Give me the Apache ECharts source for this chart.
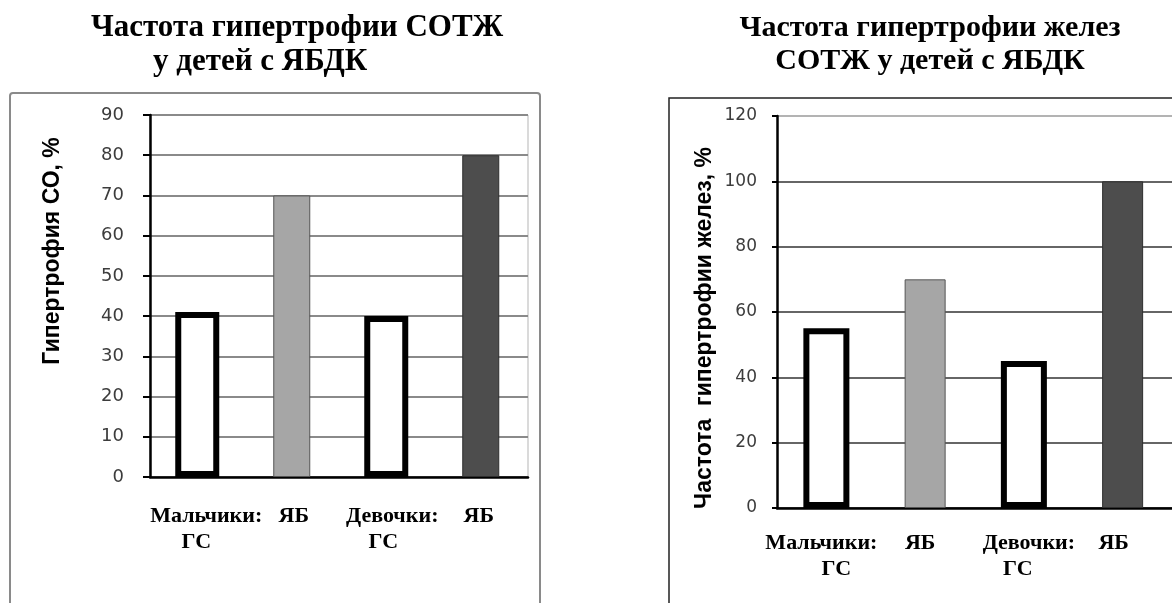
<!DOCTYPE html>
<html>
<head>
<meta charset="utf-8">
<script src="https://cdn.jsdelivr.net/npm/echarts@6/dist/echarts.min.js"></script>
<style>
  html, body { margin: 0; padding: 0; background: #ffffff; }
  #chart { width: 1172px; height: 603px; }
</style>
</head>
<body>
<div id="chart"></div>
<script>
// Группы детей (подписи категорий)
const categories = ['Мальчики:\nГС', 'ЯБ', 'Девочки:\nГС', 'ЯБ'];
// Гипертрофия СО, %
const soValues = [41, 70, 40, 80];
// Частота гипертрофии желез, %
const glandValues = [55, 70, 45, 100];

// Какие категории — ГС (белые столбцы), какие — ЯБ (серые)
const isGS = [true, false, true, false];

// Оформление столбцов по группам
const barStyles = [
  { color: '#ffffff', borderColor: '#000000', borderWidth: 6 },
  { color: '#a6a6a6', borderColor: '#555555', borderWidth: 1 },
  { color: '#ffffff', borderColor: '#000000', borderWidth: 6 },
  { color: '#4d4d4d', borderColor: '#2e2e2e', borderWidth: 1 }
];

// Небольшие сдвиги строк подписей категорий: [первая строка, вторая строка]
const labelShiftLeft = [[9, -1], [2, 0], [6, -3], [-2, 0]];
const labelShiftRight = [[-5, 10], [-5, 0], [5, -6], [-9, 0]];

const serif = 'Liberation Serif';
const sans = 'Liberation Sans';

function barData(values, gs) {
  return values.map((v, i) => (isGS[i] === gs ? { value: v, itemStyle: barStyles[i] } : null));
}

function shiftStyleName(dx) {
  return 's' + (dx < 0 ? 'm' + (-dx) : 'p' + dx);
}

function buildRich(shifts) {
  const rich = {};
  shifts.forEach(pair => pair.forEach(dx => {
    rich[shiftStyleName(dx)] = {
      fontFamily: serif, fontWeight: 'bold', fontSize: 22, lineHeight: 26, color: '#000',
      padding: dx >= 0 ? [0, 0, 0, 2 * dx] : [0, -2 * dx, 0, 0]
    };
  }));
  return rich;
}

function xAxisFor(gridIndex, margin, shifts) {
  return {
    type: 'category',
    gridIndex: gridIndex,
    data: categories,
    axisLine: { show: true, lineStyle: { color: '#000', width: 2.5 } },
    axisTick: { show: false },
    axisLabel: {
      interval: 0,
      margin: margin,
      formatter: (value, index) => value.split('\n')
        .map((line, k) => '{' + shiftStyleName(shifts[index][k] || 0) + '|' + line + '}')
        .join('\n'),
      rich: buildRich(shifts)
    }
  };
}

function hiddenXAxis(gridIndex) {
  return { type: 'category', gridIndex: gridIndex, data: categories, show: false };
}

const chart = echarts.init(document.getElementById('chart'), null, { renderer: 'canvas' });

chart.setOption({
  animation: false,
  backgroundColor: '#ffffff',
  title: [
    {
      text: '{a|Частота гипертрофии СОТЖ}\n{b|у детей с ЯБДК}',
      left: 91,
      top: 11,
      padding: 0,
      textStyle: {
        rich: {
          a: { fontFamily: serif, fontWeight: 'bold', fontSize: 31, lineHeight: 34, color: '#000' },
          b: { fontFamily: serif, fontWeight: 'bold', fontSize: 31, lineHeight: 34, color: '#000', padding: [0, 0, 0, 62] }
        }
      }
    },
    {
      text: 'Частота гипертрофии желез\nСОТЖ у детей с ЯБДК',
      left: 930,
      textAlign: 'center',
      top: 12,
      padding: 0,
      textStyle: { fontFamily: serif, fontWeight: 'bold', fontSize: 30, lineHeight: 33, color: '#000' }
    }
  ],
  graphic: [
    {
      type: 'rect', z: -10,
      shape: { x: 10, y: 93, width: 530, height: 540, r: 3 },
      style: { fill: null, stroke: '#8a8a8a', lineWidth: 2 }
    },
    {
      type: 'rect', z: -10,
      shape: { x: 669, y: 98, width: 540, height: 540 },
      style: { fill: null, stroke: '#222', lineWidth: 1.5 }
    }
  ],
  grid: [
    { left: 150, top: 115, width: 378, height: 362, show: true, borderColor: '#b5b5b5', borderWidth: 1 },
    { left: 777, top: 116, width: 400, height: 392 }
  ],
  xAxis: [
    xAxisFor(0, 26, labelShiftLeft),
    hiddenXAxis(0),
    xAxisFor(1, 22, labelShiftRight),
    hiddenXAxis(1)
  ],
  yAxis: [
    {
      type: 'value',
      gridIndex: 0,
      min: 0, max: 90, interval: 10,
      name: 'Гипертрофия СО, %',
      nameLocation: 'middle',
      nameGap: 86,
      nameTextStyle: { fontFamily: sans, fontWeight: 'bold', fontSize: 23, color: '#000', padding: [0, 0, 0, 90] },
      axisLine: { show: true, lineStyle: { color: '#000', width: 2.5 } },
      axisTick: { show: true, length: 7, lineStyle: { color: '#000', width: 2 } },
      axisLabel: { margin: 26, fontFamily: 'DejaVu Sans', fontSize: 18, color: '#3c3c3c' },
      splitLine: { show: true, lineStyle: { color: '#8a8a8a', width: 2 } }
    },
    {
      type: 'value',
      gridIndex: 1,
      min: 0, max: 120, interval: 20,
      name: 'Частота  гипертрофии желез, %',
      nameLocation: 'middle',
      nameGap: 61,
      nameTextStyle: { fontFamily: sans, fontWeight: 'bold', fontSize: 23, color: '#000', padding: [0, 32, 0, 0] },
      axisLine: { show: true, lineStyle: { color: '#000', width: 2.5 } },
      axisTick: { show: true, length: 5, lineStyle: { color: '#000', width: 2 } },
      axisLabel: { margin: 20, fontFamily: 'DejaVu Sans', fontSize: 17, color: '#3c3c3c' },
      splitLine: {
        show: true,
        lineStyle: { color: ['#333', '#333', '#333', '#333', '#333', '#333', '#9a9a9a'], width: 1.5 }
      }
    }
  ],
  series: [
    { type: 'bar', xAxisIndex: 0, yAxisIndex: 0, barWidth: 44, data: barData(soValues, true) },
    { type: 'bar', xAxisIndex: 1, yAxisIndex: 0, barWidth: 37, data: barData(soValues, false) },
    { type: 'bar', xAxisIndex: 2, yAxisIndex: 1, barWidth: 46, data: barData(glandValues, true) },
    { type: 'bar', xAxisIndex: 3, yAxisIndex: 1, barWidth: 41, data: barData(glandValues, false) }
  ]
});
</script>
</body>
</html>
